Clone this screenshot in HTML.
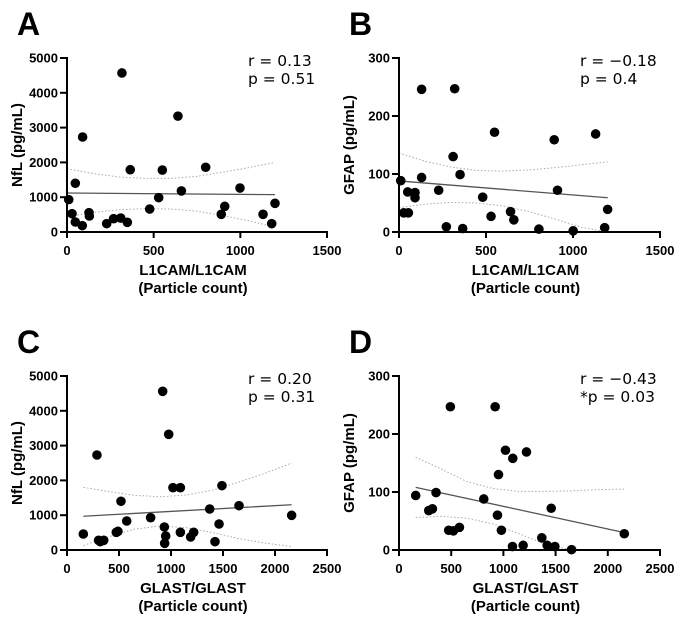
<!DOCTYPE html>
<html><head><meta charset="utf-8"><style>
html,body{margin:0;padding:0;background:#fff;width:680px;height:621px;overflow:hidden}
svg text{font-family:"Liberation Sans",sans-serif}
</style></head><body>
<svg id="fig" width="680" height="621" xmlns="http://www.w3.org/2000/svg"></svg>
<script>
// Panel A: L1CAM vs NfL
const aX=[10,29,48,48,88,90,127,129,229,269,310,317,348,365,477,529,550,640,660,800,890,910,998,1131,1181,1200];
const aY=[930,527,287,1400,182,2730,555,460,240,383,400,4570,278,1790,660,987,1780,3330,1180,1860,508,737,1264,508,240,824];
const aFitX=[0,1200];const aFitY=[1120,1073];
const aCiX=[0,150,300,450,600,750,900,1050,1200];
const aCiHi=[1820,1680,1580,1540,1540,1600,1720,1850,2000];
const aCiLo=[440,560,640,670,660,600,470,320,140];
// Panel B: L1CAM vs GFAP
const bX=[10,27,54,50,92,92,130,130,228,272,311,320,351,366,481,529,549,641,660,804,892,911,1001,1130,1182,1199];
const bY=[88.5,33,33,69,68,59,246,94,72,9,130,247,99,6,60,27,172,35,21,5,159,72,2,169,7.5,39];
const bFitX=[0,1200];const bFitY=[88,59];
const bCiX=[0,150,300,450,600,750,900,1050,1200];
const bCiHi=[136,122,112,106,105,107,111,116,121];
const bCiLo=[42,48,51,50,45,35,22,8,0];
// Panel C: GLAST vs NfL
const cX=[157,288,304,320,353,474,490,519,574,804,920,936,949,939,978,1019,1090,1090,1189,1218,1372,1423,1462,1490,1654,2160];
const cY=[460,2730,278,240,278,508,536,1400,833,929,4560,661,402,192,3324,1791,1791,508,374,508,1178,240,747,1849,1274,996];
const cFitX=[157,2160];const cFitY=[970,1300];
const cCiX=[160,400,650,900,1150,1400,1650,1900,2160];
const cCiHi=[1800,1680,1570,1530,1580,1720,1950,2200,2500];
const cCiLo=[130,380,600,690,640,500,330,200,100];
// Panel D: GLAST vs GFAP
const dX=[160,285,320,355,476,492,521,579,812,921,943,953,981,1020,1090,1087,1189,1221,1368,1419,1458,1493,1653,2158];
const dY=[94,68,71,99,34,247,33,39,88,247,60,130,34,172,158,6,8,169,21,8,72,6,0.6,28];
const dFitX=[160,2160];const dFitY=[108,30];
const dCiX=[160,400,650,900,1150,1400,1650,1900,2160];
const dCiHi=[160,140,118,106,101,101,102,104,105];
const dCiLo=[56,58,55,45,28,10,0,0,0];

const panels=[
 {key:'a',letter:'A',ox:67,ox2:327,oy:232,oy2:58,xmax:1500,ymax:5000,xt:[0,500,1000,1500],yt:[0,1000,2000,3000,4000,5000],
  xl:'L1CAM/L1CAM',yl:'NfL (pg/mL)',r:'r = 0.13',p:'p = 0.51',X:aX,Y:aY,fx:aFitX,fy:aFitY,cx:aCiX,hi:aCiHi,lo:aCiLo},
 {key:'b',letter:'B',ox:399,ox2:660,oy:232,oy2:58,xmax:1500,ymax:300,xt:[0,500,1000,1500],yt:[0,100,200,300],
  xl:'L1CAM/L1CAM',yl:'GFAP (pg/mL)',r:'r = \u22120.18',p:'p = 0.4',X:bX,Y:bY,fx:bFitX,fy:bFitY,cx:bCiX,hi:bCiHi,lo:bCiLo},
 {key:'c',letter:'C',ox:67,ox2:327,oy:550,oy2:376,xmax:2500,ymax:5000,xt:[0,500,1000,1500,2000,2500],yt:[0,1000,2000,3000,4000,5000],
  xl:'GLAST/GLAST',yl:'NfL (pg/mL)',r:'r = 0.20',p:'p = 0.31',X:cX,Y:cY,fx:cFitX,fy:cFitY,cx:cCiX,hi:cCiHi,lo:cCiLo},
 {key:'d',letter:'D',ox:399,ox2:660,oy:550,oy2:376,xmax:2500,ymax:300,xt:[0,500,1000,1500,2000,2500],yt:[0,100,200,300],
  xl:'GLAST/GLAST',yl:'GFAP (pg/mL)',r:'r = \u22120.43',p:'*p = 0.03',X:dX,Y:dY,fx:dFitX,fy:dFitY,cx:dCiX,hi:dCiHi,lo:dCiLo}
];
const NS='http://www.w3.org/2000/svg';
const svg=document.getElementById('fig');
function mk(tag,attrs,parent,txt){const e=document.createElementNS(NS,tag);for(const k in attrs)e.setAttribute(k,attrs[k]);if(txt!==undefined)e.textContent=txt;parent.appendChild(e);return e;}
panels.forEach(P=>{
 const g=mk('g',{},svg);
 
 
 const sx=v=>P.ox+(v/P.xmax)*(P.ox2-P.ox);
 const sy=v=>P.oy-(v/P.ymax)*(P.oy-P.oy2);
 const t=mk('text',{x:P.ox-50,y:P.oy2-23,'font-size':32,'font-weight':'bold'},g,P.letter);
 
 
 [P.hi,P.lo].forEach((arr,i)=>{
  const pts=P.cx.map((x,j)=>sx(x)+','+sy(arr[j])).join(' ');
  const pl=mk('polyline',{points:pts,fill:'none',stroke:'#aaa','stroke-width':1,'stroke-dasharray':'1.5,2'},g);
  
  
 });
 const fl=mk('line',{x1:sx(P.fx[0]),y1:sy(P.fy[0]),x2:sx(P.fx[1]),y2:sy(P.fy[1]),stroke:'#555','stroke-width':1.3},g);
 
 
 P.X.forEach((x,i)=>{
  const c=mk('circle',{cx:sx(x),cy:sy(P.Y[i]),r:4.8,fill:'#000'},g);
  
  
 });
 const ax=mk('line',{x1:P.ox-1,y1:P.oy,x2:P.ox2+1,y2:P.oy,stroke:'#000','stroke-width':2},g);
 
 
 const ay=mk('line',{x1:P.ox,y1:P.oy+1,x2:P.ox,y2:P.oy2-1,stroke:'#000','stroke-width':2},g);
 
 
 P.xt.forEach(v=>{
  mk('line',{x1:sx(v),y1:P.oy,x2:sx(v),y2:P.oy+6,stroke:'#000','stroke-width':2},g);
  const tl=mk('text',{x:sx(v),y:P.oy+23,'font-size':13,'font-weight':'bold','text-anchor':'middle'},g,v);
  
  
 });
 P.yt.forEach(v=>{
  mk('line',{x1:P.ox-7,y1:sy(v),x2:P.ox,y2:sy(v),stroke:'#000','stroke-width':2},g);
  const tl=mk('text',{x:P.ox-9,y:sy(v)+4.5,'font-size':13,'font-weight':'bold','text-anchor':'end'},g,v);
  
  
 });
 const cxm=(P.ox+P.ox2)/2;
 const x1=mk('text',{x:cxm-4,y:P.oy+43,'font-size':15,'font-weight':'bold','text-anchor':'middle'},g,P.xl);
 
 
 const x2=mk('text',{x:cxm-4,y:P.oy+61,'font-size':15,'font-weight':'bold','text-anchor':'middle'},g,'(Particle count)');
 
 
 const yy=(P.oy+P.oy2)/2;
 const yl=mk('text',{x:0,y:0,'font-size':15,'font-weight':'bold','text-anchor':'middle',transform:'translate('+(P.ox-45)+','+yy+') rotate(-90)'},g,P.yl);
 
 
 const rt=mk('text',{x:P.ox+181,y:P.oy2+8,'font-size':15.5,style:'font-family:"DejaVu Sans",sans-serif'},g,P.r);
 
 
 const pt=mk('text',{x:P.ox+181,y:P.oy2+26,'font-size':15.5,style:'font-family:"DejaVu Sans",sans-serif'},g,P.p);
 
 
});
</script>
</body></html>
